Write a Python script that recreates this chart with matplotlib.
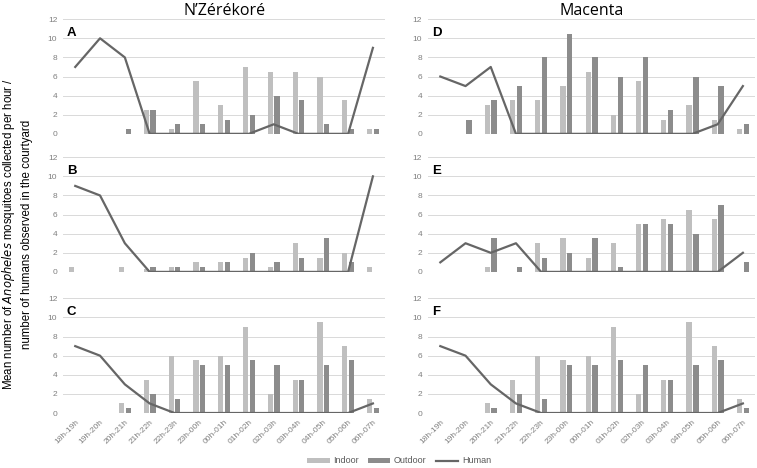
import numpy as np
import matplotlib.pyplot as plt

hours = ['18h-19h', '19h-20h', '20h-21h', '21h-22h', '22h-23h', '23h-00h', '00h-01h',
         '01h-02h', '02h-03h', '03h-04h', '04h-05h', '05h-06h', '06h-07h']

# N'Zerekore
indoor_A = [0, 0, 0, 2.5, 0.5, 5.5, 3, 7, 6.5, 6.5, 6, 3.5, 0.5]
outdoor_A = [0, 0, 0.5, 2.5, 1, 1, 1.5, 2, 4, 3.5, 1, 0.5, 0.5]
human_A = [7, 10, 8, 0, 0, 0, 0, 0, 1, 0, 0, 0, 9]

indoor_B = [0.5, 0, 0.5, 0.3, 0.5, 1, 1, 1.5, 0.5, 3, 1.5, 2, 0.5]
outdoor_B = [0, 0, 0, 0.5, 0.5, 0.5, 1, 2, 1, 1.5, 3.5, 1, 0]
human_B = [9, 8, 3, 0, 0, 0, 0, 0, 0, 0, 0, 0, 10]

indoor_C = [0, 0, 1, 3.5, 6, 5.5, 6, 9, 2, 3.5, 9.5, 7, 1.5]
outdoor_C = [0, 0, 0.5, 2, 1.5, 5, 5, 5.5, 5, 3.5, 5, 5.5, 0.5]
human_C = [7, 6, 3, 1, 0, 0, 0, 0, 0, 0, 0, 0, 1]

# Macenta
indoor_D = [0, 0, 3, 3.5, 3.5, 5, 6.5, 2, 5.5, 1.5, 3, 1.5, 0.5]
outdoor_D = [0, 1.5, 3.5, 5, 8, 10.5, 8, 6, 8, 2.5, 6, 5, 1]
human_D = [6, 5, 7, 0, 0, 0, 0, 0, 0, 0, 0, 1, 5]

indoor_E = [0, 0, 0.5, 0, 3, 3.5, 1.5, 3, 5, 5.5, 6.5, 5.5, 0]
outdoor_E = [0, 0, 3.5, 0.5, 1.5, 2, 3.5, 0.5, 5, 5, 4, 7, 1]
human_E = [1, 3, 2, 3, 0, 0, 0, 0, 0, 0, 0, 0, 2]

indoor_F = [0, 0, 1, 3.5, 6, 5.5, 6, 9, 2, 3.5, 9.5, 7, 1.5]
outdoor_F = [0, 0, 0.5, 2, 1.5, 5, 5, 5.5, 5, 3.5, 5, 5.5, 0.5]
human_F = [7, 6, 3, 1, 0, 0, 0, 0, 0, 0, 0, 0, 1]

panels = [
    ('A', indoor_A, outdoor_A, human_A),
    ('D', indoor_D, outdoor_D, human_D),
    ('B', indoor_B, outdoor_B, human_B),
    ('E', indoor_E, outdoor_E, human_E),
    ('C', indoor_C, outdoor_C, human_C),
    ('F', indoor_F, outdoor_F, human_F),
]

c_in = '#bfbfbf'
c_out = '#8c8c8c'
c_hum = '#666666'

plt.rcParams['font.family'] = ['Liberation Sans', 'DejaVu Sans']

fig = plt.figure(figsize=(7.57, 4.68), dpi=100)

lefts = [0.083, 0.565]
widths = [0.426, 0.433]
bottoms = [0.714, 0.419, 0.1175]
height = 0.245

x = np.arange(len(hours))
bw = 0.21
off = 0.135

for i, (letter, ind, outd, hum) in enumerate(panels):
    row, col = divmod(i, 2)
    ax = fig.add_axes([lefts[col], bottoms[row], widths[col], height])
    b1 = ax.bar(x - off, ind, width=bw, color=c_in, zorder=2)
    b2 = ax.bar(x + off, outd, width=bw, color=c_out, zorder=2)
    l1, = ax.plot(x, hum, color=c_hum, linewidth=1.6, zorder=3)
    ax.set_xlim(-0.5, len(hours) - 0.5)
    ax.set_ylim(0, 12)
    ax.set_yticks(range(0, 13, 2))
    ax.yaxis.grid(True, color='#d9d9d9', linewidth=0.7, zorder=0)
    ax.set_axisbelow(True)
    for s in ax.spines.values():
        s.set_visible(False)
    ax.tick_params(axis='both', length=0, labelsize=6, labelcolor='#7f7f7f', pad=4)
    ax.set_xticks(x)
    if row == 2:
        ax.set_xticklabels(hours, rotation=45, ha='right', rotation_mode='anchor')
    else:
        ax.set_xticklabels([])
    ax.text(0.012, 0.93, letter, transform=ax.transAxes, fontsize=9.5,
            fontweight='bold', va='top', ha='left')
    if i == 0:
        ax.set_title('N\u2019Zérékoré', fontsize=11.5, family='Open Sans', pad=3)
        handles = [b1, b2, l1]
    if i == 1:
        ax.set_title('Macenta', fontsize=11.5, family='Open Sans', pad=3)

fig.text(0.022, 0.5,
         'Mean number of $\\it{Anopheles}$ mosquitoes collected per hour /\n'
         'number of humans observed in the courtyard',
         rotation=90, ha='center', va='center', fontsize=8.3, linespacing=1.4)

fig.legend(handles, ['Indoor', 'Outdoor', 'Human'], loc='lower center',
           bbox_to_anchor=(0.527, -0.012), ncol=3, frameon=False, fontsize=6.5,
           handlelength=2.5, handleheight=0.5, handletextpad=0.4,
           columnspacing=1.0, labelcolor='#595959')

fig.savefig('out.png', dpi=100)
